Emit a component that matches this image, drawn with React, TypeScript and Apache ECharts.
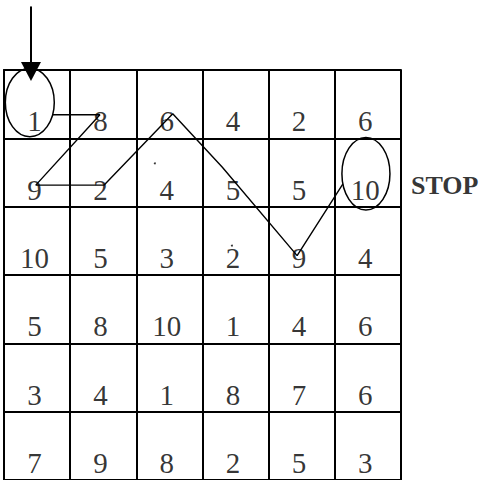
import React, { useEffect, useRef } from "react";
import * as echarts from "echarts";

// Cell numbers, row by row (top to bottom)
const row1 = [1, 8, 6, 4, 2, 6];
const row2 = [9, 2, 4, 5, 5, 10];
const row3 = [10, 5, 3, 2, 9, 4];
const row4 = [5, 8, 10, 1, 4, 6];
const row5 = [3, 4, 1, 8, 7, 6];
const row6 = [7, 9, 8, 2, 5, 3];
const rows = [row1, row2, row3, row4, row5, row6];

// Path through the grid (column units, row units)
const pathX = [0.74, 1.45, 0.48, 1.51, 2.55, 3.3, 4.43, 5.12];
const pathY = [0.654, 0.654, 1.685, 1.685, 0.64, 1.424, 2.717, 1.671];

// Ellipses: centre x, centre y, radius x, radius y
const ellipses = [
  [0.39, 0.475, 0.37, 0.5],
  [5.47, 1.518, 0.363, 0.53],
];

// Start arrow: x, start y, tip y
const arrows = [[0.408, -0.93, 0.16]];

// Stray dots
const dotsX = [2.28, 3.445];
const dotsY = [1.366, 2.57];

const stopLabel = [[6.15, 1.69, "STOP"]];

export default function App() {
  const ref = useRef<HTMLDivElement>(null);
  useEffect(() => {
    if (!ref.current) return;
    const chart = echarts.init(ref.current, undefined, { renderer: "svg" });
    const cellData: any[] = [];
    rows.forEach((r, ri) =>
      r.forEach((v, ci) => cellData.push([ci + 0.46, ri + 0.75, v]))
    );
    const axisCommon = {
      type: "value",
      min: 0,
      max: 6,
      interval: 1,
      axisLabel: { show: false },
      axisTick: { show: false },
      axisLine: { show: true, lineStyle: { color: "#000", width: 2 } },
      splitLine: { show: true, lineStyle: { color: "#000", width: 2 } },
    };
    chart.setOption({
      animation: false,
      backgroundColor: "#fff",
      grid: { left: 4, top: 70, width: 397, height: 413, containLabel: false },
      xAxis: { ...axisCommon },
      yAxis: { ...axisCommon, inverse: true },
      series: [
        {
          type: "line",
          data: pathX.map((x, i) => [x, pathY[i]]),
          symbol: "none",
          clip: false,
          lineStyle: { color: "#000", width: 1.4 },
          z: 3,
        },
        {
          type: "scatter",
          data: cellData,
          symbolSize: 0,
          clip: false,
          label: {
            show: true,
            position: "inside",
            formatter: (p: any) => String(p.value[2]),
            fontSize: 29,
            fontFamily: "Liberation Serif",
            color: "#000",
            textBorderWidth: 0,
          },
          z: 2,
        },
        {
          type: "scatter",
          data: stopLabel,
          symbolSize: 0,
          clip: false,
          label: {
            show: true,
            position: "right",
            distance: 0,
            formatter: (p: any) => String(p.value[2]),
            fontSize: 26,
            fontWeight: "bold",
            fontFamily: "Liberation Serif",
            color: "#000",
            textBorderWidth: 0,
          },
        },
        {
          type: "scatter",
          data: dotsX.map((x, i) => [x, dotsY[i]]),
          symbolSize: 2,
          clip: false,
          itemStyle: { color: "#000" },
        },
        {
          type: "custom",
          data: ellipses,
          clip: false,
          renderItem: (params: any, api: any) => {
            const c = api.coord([api.value(0), api.value(1)]);
            const s = api.size([api.value(2), api.value(3)]);
            return {
              type: "ellipse",
              shape: { cx: c[0], cy: c[1], rx: s[0], ry: s[1] },
              style: { fill: "none", stroke: "#000", lineWidth: 1.5 },
            };
          },
          z: 4,
        },
        {
          type: "custom",
          data: arrows,
          clip: false,
          renderItem: (params: any, api: any) => {
            const a = api.coord([api.value(0), api.value(1)]);
            const b = api.coord([api.value(0), api.value(2)]);
            const headLen = 19;
            const headHalf = 10;
            return {
              type: "group",
              children: [
                {
                  type: "line",
                  shape: { x1: a[0], y1: a[1], x2: b[0], y2: b[1] - headLen + 2 },
                  style: { stroke: "#000", lineWidth: 2 },
                },
                {
                  type: "polygon",
                  shape: {
                    points: [
                      [b[0] - headHalf, b[1] - headLen],
                      [b[0] + headHalf, b[1] - headLen],
                      [b[0], b[1]],
                    ],
                  },
                  style: { fill: "#000" },
                },
              ],
            };
          },
          z: 5,
        },
      ],
    });
    return () => chart.dispose();
  }, []);
  return (
    <div
      ref={ref}
      style={{ position: "fixed", left: 0, top: 0, width: 480, height: 480 }}
    />
  );
}
